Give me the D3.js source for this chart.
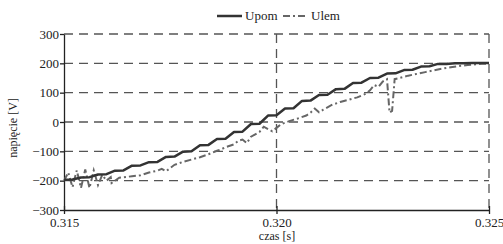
<!DOCTYPE html>
<html>
<head>
<script src="https://d3js.org/d3.v7.min.js"></script>
<style>
  body { margin: 0; background: #fff; }
  .grid line { stroke: #555; stroke-width: 1.3; stroke-dasharray: 9,6; }
</style>
</head>
<body>
<svg id="chart" width="503" height="244"></svg>
<script>
// time [s] for Upom (staircase)
var upomT = [0.3150,0.3152,0.3154,0.3156,0.3158,0.3160,0.3162,0.3164,0.3166,0.3168,
             0.3170,0.3172,0.3174,0.3176,0.3178,0.3180,0.3182,0.3184,0.3186,0.3188,
             0.3190,0.3192,0.3194,0.3196,0.3198,0.3200,0.3202,0.3204,0.3206,0.3208,
             0.3210,0.3212,0.3214,0.3216,0.3218,0.3220,0.3222,0.3224,0.3226,0.3228,
             0.3230,0.3232,0.3234,0.3236,0.3238,0.3240,0.3242,0.3244,0.3246,0.3248,0.3250];
var upomV = [-197,-196,-189,-188,-179,-178,-166,-165,-149,-148,
             -137,-136,-119,-118,-101,-100,-79,-78,-58,-57,
             -34,-33,-7,-6,22,23,46,47,72,73,
             92,93,112,113,133,134,150,151,165,166,
             177,178,189,190,198,198,200,200,201,201,201];

var ulemT = [0.3150,0.3151,0.3152,0.3153,0.3154,0.3155,0.3156,0.3157,0.3158,0.3159,
             0.3160,0.3161,0.31612,0.3163,0.3166,0.3168,0.3170,0.3172,0.3173,0.3174,
             0.3176,0.3178,0.3180,0.3182,0.3184,0.3186,0.3187,0.3188,0.3190,0.3191,
             0.3192,0.3193,0.3194,0.3195,0.3196,0.3197,0.3198,0.3199,0.3200,0.3201,
             0.3203,0.3205,0.3207,0.3208,0.3209,0.3210,0.3211,0.3213,0.3215,0.3217,
             0.3219,0.3221,0.3222,0.3223,0.3224,0.3225,0.3226,0.32266,0.32272,0.32278,
             0.3229,0.3231,0.3233,0.3235,0.3237,0.3239,0.3241,0.3243,0.3245,0.3247,
             0.3249,0.3250];
var ulemV = [-200,-172,-222,-165,-225,-162,-225,-165,-215,-180,
             -200,-188,-208,-190,-185,-182,-172,-166,-160,-168,
             -146,-136,-128,-120,-110,-98,-93,-86,-76,-64,
             -60,-72,-50,-42,-34,-16,-24,-32,-20,-8,
             3,12,22,32,46,33,42,58,68,76,
             84,96,108,126,120,138,146,32,38,146,
             150,158,164,170,176,182,187,191,194,197,
             199,199];

var yTicks = [-300,-200,-100,0,100,200,300];
var xTicks = [0.315,0.320,0.325];
var seriesNames = ["Upom", "Ulem"];

var serif = "'Liberation Serif', 'DejaVu Serif', serif";
var svg = d3.select("#chart");
var pLeft = 64, pRight = 489, pTop = 34, pBottom = 210;

var x = d3.scaleLinear().domain([0.315, 0.325]).range([pLeft, pRight]);
var y = d3.scaleLinear().domain([-300, 300]).range([pBottom, pTop]);

// grid
var grid = svg.append("g").attr("class", "grid");
grid.selectAll(".h").data(yTicks.filter(d => d > -300)).enter().append("line")
  .attr("x1", pLeft).attr("x2", pRight)
  .attr("y1", d => y(d)).attr("y2", d => y(d));
grid.selectAll(".v").data(xTicks.filter(d => d > 0.315)).enter().append("line")
  .attr("x1", d => x(d)).attr("x2", d => x(d))
  .attr("y1", pTop).attr("y2", pBottom);

// axes
var yAxis = d3.axisLeft(y).tickValues(yTicks).tickSize(4).tickSizeOuter(0).tickFormat(d3.format("d"));
var gy = svg.append("g").attr("transform", "translate(" + pLeft + ",0)").call(yAxis);
var xAxis = d3.axisBottom(x).tickValues(xTicks).tickSize(4).tickSizeOuter(0).tickFormat(d3.format(".3f"));
var gx = svg.append("g").attr("transform", "translate(0," + pBottom + ")").call(xAxis);
[gy, gx].forEach(function(g) {
  g.attr("font-family", serif).attr("font-size", 13);
  g.select(".domain").attr("stroke", "#222").attr("stroke-width", 1.3);
  g.selectAll(".tick line").attr("stroke", "#222").attr("stroke-width", 1.3);
  g.selectAll("text").attr("fill", "#222");
});
gy.selectAll(".tick text").attr("x", -5);
gx.selectAll(".tick line").attr("y1", -4);
gx.selectAll(".tick text").attr("y", 8);

// lines
var lineU = d3.line().x((d, i) => x(upomT[i])).y(d => y(d));
var lineL = d3.line().x((d, i) => x(ulemT[i])).y(d => y(d));

svg.append("path").datum(ulemV).attr("d", lineL)
  .attr("fill", "none").attr("stroke", "#666").attr("stroke-width", 2)
  .attr("stroke-dasharray", "7,3,2,3");
svg.append("path").datum(upomV).attr("d", lineU)
  .attr("fill", "none").attr("stroke", "#333").attr("stroke-width", 2.5)
  .attr("stroke-linejoin", "round");

// legend
var leg = svg.append("g").attr("font-family", serif).attr("font-size", 13).attr("fill", "#222");
leg.append("line").attr("x1", 217).attr("x2", 242).attr("y1", 16).attr("y2", 16)
  .attr("stroke", "#333").attr("stroke-width", 2.5);
leg.append("text").attr("x", 245).attr("y", 20).text(seriesNames[0]);
leg.append("line").attr("x1", 283).attr("x2", 308).attr("y1", 16).attr("y2", 16)
  .attr("stroke", "#666").attr("stroke-width", 2).attr("stroke-dasharray", "7,3,2,3");
leg.append("text").attr("x", 311).attr("y", 20).text(seriesNames[1]);

// axis titles
var titles = svg.append("g").attr("font-family", serif).attr("font-size", 12).attr("fill", "#222");
titles.append("text").attr("x", 277).attr("y", 240).attr("text-anchor", "middle").text("czas [s]");
titles.append("text").attr("transform", "translate(17,128) rotate(-90)").attr("text-anchor", "middle")
  .text("napięcie [V]");
</script>
</body>
</html>
